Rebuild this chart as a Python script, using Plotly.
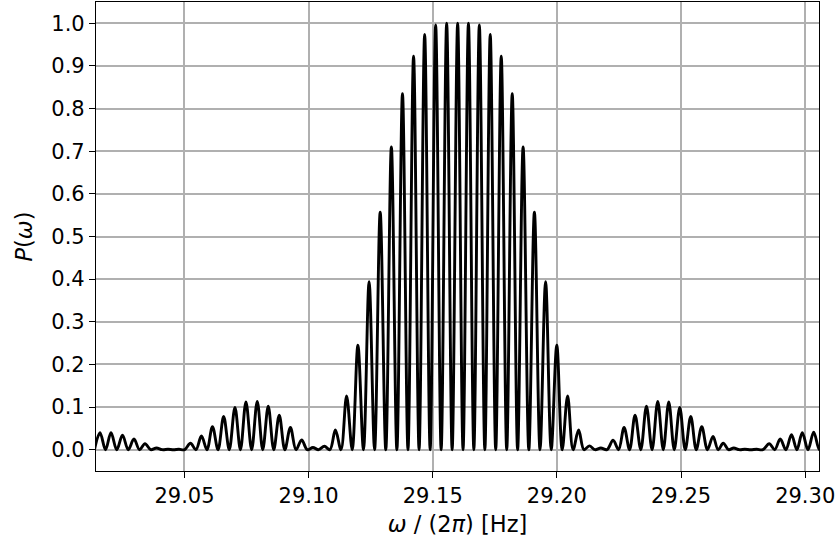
import plotly.graph_objects as go

# Peaks of P(omega) (frequency in Hz, height)
peak_freq = [29.01598, 29.02041, 29.02504, 29.02967, 29.03410, 29.03873, 29.04336, 29.04779,
             29.05242, 29.05684, 29.06127, 29.06578, 29.07033, 29.07476, 29.07931, 29.08374,
             29.08817, 29.09267, 29.09718, 29.10173, 29.10636, 29.11079, 29.11530, 29.11985,
             29.12436, 29.12883, 29.13333, 29.13780, 29.14227, 29.14674, 29.15117, 29.15560,
             29.16003, 29.16437, 29.16876, 29.17315, 29.17758, 29.18201, 29.18639, 29.19094,
             29.19545, 29.19996, 29.20431, 29.20874, 29.21305, 29.21768, 29.22263, 29.22706,
             29.23148, 29.23607, 29.24062, 29.24505, 29.24948, 29.25391, 29.25834, 29.26288,
             29.26699, 29.27122, 29.27565, 29.28048, 29.28551, 29.28994, 29.29449, 29.29883,
             29.30342, 29.30805]
peak_P = [0.040, 0.040, 0.034, 0.025, 0.014, 0.004, 0.001, 0.001,
          0.015, 0.032, 0.054, 0.078, 0.099, 0.112, 0.113, 0.102,
          0.081, 0.052, 0.023, 0.005, 0.008, 0.046, 0.126, 0.245,
          0.394, 0.557, 0.710, 0.835, 0.923, 0.974, 0.996, 1.000,
          1.000, 1.000, 0.996, 0.974, 0.923, 0.835, 0.710, 0.557,
          0.394, 0.245, 0.126, 0.046, 0.009, 0.004, 0.022, 0.052,
          0.081, 0.102, 0.113, 0.112, 0.099, 0.078, 0.054, 0.031,
          0.015, 0.004, 0.001, 0.001, 0.014, 0.025, 0.035, 0.040,
          0.041, 0.040]

# Zeros (troughs) of P(omega)
trough_freq = [29.01377, 29.01820, 29.02271, 29.02734, 29.03188, 29.03639, 29.04102, 29.04557,
               29.05008, 29.05463, 29.05906, 29.06353, 29.06804, 29.07254, 29.07705, 29.08152,
               29.08595, 29.09042, 29.09493, 29.09944, 29.10403, 29.10858, 29.11304, 29.11755,
               29.12210, 29.12657, 29.13108, 29.13555, 29.14002, 29.14449, 29.14895, 29.15338,
               29.15781, 29.16220, 29.16655, 29.17098, 29.17536, 29.17979, 29.18418, 29.18869,
               29.19320, 29.19771, 29.20214, 29.20652, 29.21091, 29.21534, 29.22017, 29.22484,
               29.22927, 29.23378, 29.23833, 29.24284, 29.24726, 29.25169, 29.25612, 29.26063,
               29.26494, 29.26912, 29.27343, 29.27806, 29.28297, 29.28772, 29.29223, 29.29666,
               29.30113, 29.30572]
trough_P = [0.0] * len(trough_freq)

x_tick_vals = [29.05, 29.10, 29.15, 29.20, 29.25, 29.30]
y_tick_vals = [0.0, 0.1, 0.2, 0.3, 0.4, 0.5, 0.6, 0.7, 0.8, 0.9, 1.0]

pts = sorted(zip(peak_freq + trough_freq, peak_P + trough_P))
xs = [p[0] for p in pts]
ys = [p[1] for p in pts]

fig = go.Figure()
fig.add_trace(go.Scatter(x=xs, y=ys, mode="lines",
                         line=dict(color="black", width=2.9, shape="spline", smoothing=1.0),
                         cliponaxis=True, showlegend=False))

font_fam = "DejaVu Sans"
axis_common = dict(showline=True, linecolor="black", linewidth=1.2, mirror=True,
                   ticks="outside", ticklen=6, tickwidth=1.2, tickcolor="black",
                   showgrid=True, gridcolor="#b0b0b0", gridwidth=1.5, zeroline=False,
                   tickfont=dict(family=font_fam, size=21, color="black"))

fig.update_layout(
    width=837, height=546,
    margin=dict(l=96, r=18, t=2, b=75),
    plot_bgcolor="white", paper_bgcolor="white",
    xaxis=dict(range=[29.01437, 29.30556], tickvals=x_tick_vals, tickformat=".2f",
               title=dict(text="<i>ω</i> / (2<i>π</i>) [Hz]", standoff=8,
                          font=dict(family=font_fam, size=22.5, color="black")),
               **axis_common),
    yaxis=dict(range=[-0.05, 1.05], tickvals=y_tick_vals, tickformat=".1f",
               title=dict(text="<i>P</i>(<i>ω</i>)", standoff=12,
                          font=dict(family=font_fam, size=22.5, color="black")),
               **axis_common),
)

fig.write_html("out.html")
